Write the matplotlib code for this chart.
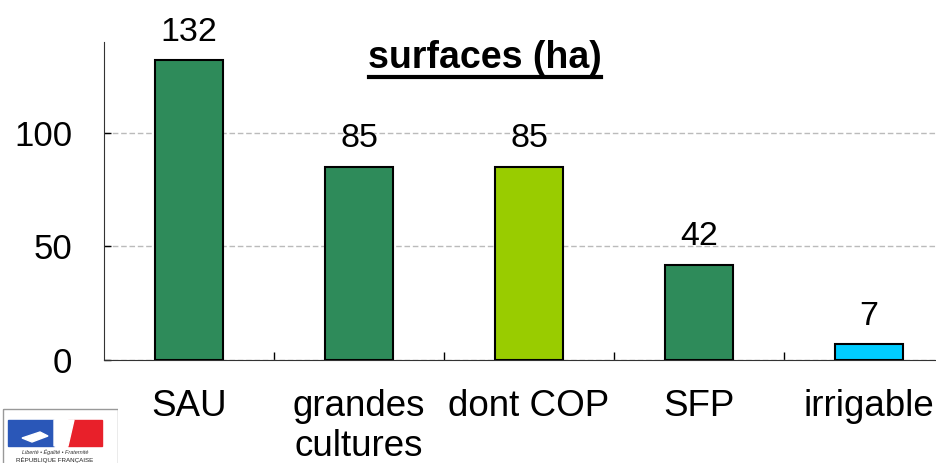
import numpy as np
import matplotlib.pyplot as plt
from matplotlib.patches import Rectangle, Polygon

plt.rcParams['font.family'] = ['Liberation Sans', 'DejaVu Sans']

# data
categories = ['SAU', 'grandes\ncultures', 'dont COP', 'SFP', 'irrigable']
surfaces = [132, 85, 85, 42, 7]
bar_colors = ['#2e8b5a', '#2e8b5a', '#99cc00', '#2e8b5a', '#00ccff']

W, H = 936, 463
fig = plt.figure(figsize=(W / 100, H / 100), dpi=100)

# axis runs past the right edge like in the slide
ax = fig.add_axes([104 / W, 103 / H, 850 / W, 318 / H])
x = np.arange(len(categories))
ax.bar(x, surfaces, width=0.4, color=bar_colors, edgecolor='black', linewidth=1.5, zorder=3)

for xi, v in zip(x, surfaces):
    ax.annotate(str(v), (xi, v), xytext=(0, 9), textcoords='offset points',
                ha='center', va='bottom', fontsize=24.5)

ax.set_xlim(-0.5, len(categories) - 0.5)
ax.set_ylim(0, 140)
ax.set_yticks([0, 50, 100])
ax.set_xticks(x)
ax.set_xticklabels(categories, fontsize=26.5, linespacing=1.17)
ax.set_xticks(x[1:] - 0.5, minor=True)
ax.tick_params(axis='x', which='major', length=0, pad=21)
ax.tick_params(axis='x', which='minor', direction='in', length=6, width=1)
ax.tick_params(axis='y', direction='in', length=5, width=1, labelsize=25, pad=23)

ax.yaxis.grid(True, linestyle=(0, (4, 2)), color='#bbbbbb', linewidth=1, zorder=0)
for s in ['top', 'right']:
    ax.spines[s].set_visible(False)
ax.spines['left'].set_color('#333333')
ax.spines['bottom'].set_color('#333333')

# title
fig.text(485 / W, 1 - 68 / H, 'surfaces (ha)', ha='center', va='baseline',
         fontsize=27, fontweight='bold')
fig.add_artist(plt.Line2D([369 / W, 601 / W], [1 - 77 / H, 1 - 77 / H],
                          color='black', linewidth=3))

# Marianne logo box (rough)
lg = fig.add_axes([2 / W, 0, 116 / W, 55 / H])
lg.set_xlim(0, 116)
lg.set_ylim(55, 0)
lg.axis('off')
lg.add_patch(Rectangle((0.5, 0.5), 115, 60, fill=False, edgecolor='#999999', linewidth=1))
lg.add_patch(Rectangle((6, 12), 46, 26, color='#2a57b8'))
lg.add_patch(Rectangle((66, 12), 34, 26, color='#e8202a'))
lg.add_patch(Polygon([[52, 12], [72, 12], [66, 38], [52, 38]], color='white'))
lg.add_patch(Polygon([[20, 30], [38, 24], [46, 28], [30, 34]], color='white'))
lg.text(53, 44, 'Liberté • Égalité • Fraternité', ha='center', va='center',
        fontsize=4, style='italic', color='#333333')
lg.text(53, 52, 'RÉPUBLIQUE FRANÇAISE', ha='center', va='center',
        fontsize=4.5, color='#222222')

fig.savefig('out.png', dpi=100)
